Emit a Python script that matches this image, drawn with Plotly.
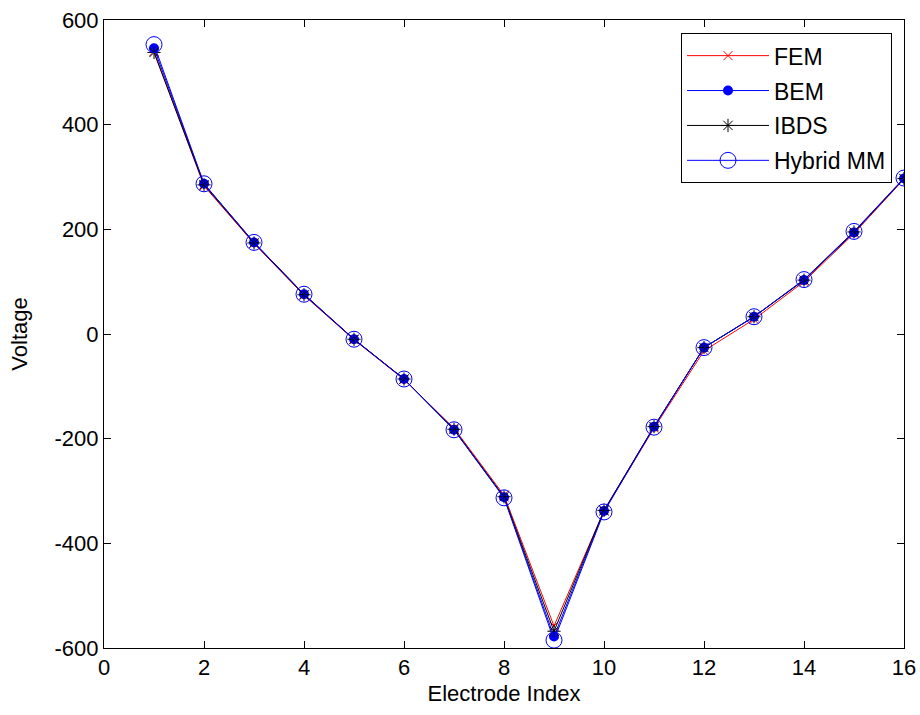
import plotly.graph_objects as go

electrode = list(range(1, 17))
fem = [540, 283, 173, 74, -11, -87, -180, -308, -558, -338, -180, -32, 28, 100, 192, 296]
bem = [546, 287, 175, 76, -10, -86, -183, -312, -578, -338, -177, -26, 33, 103, 194, 297]
ibds = [538, 285, 174, 75, -10, -86, -182, -311, -568, -337, -177, -26, 33, 103, 195, 297]
hybrid = [553, 287, 175, 76, -10, -86, -183, -313, -585, -340, -178, -26, 33, 104, 196, 298]

x_ticks = [0, 2, 4, 6, 8, 10, 12, 14, 16]
y_ticks = [-600, -400, -200, 0, 200, 400, 600]
y_tick_labels = ["-600", "-400", "-200", "0", "200", "400", "600"]

fig = go.Figure()
fig.add_trace(go.Scatter(x=electrode, y=fem, name="FEM", mode="lines+markers", legendgroup="a",
                         line=dict(color="#FF0000", width=1),
                         marker=dict(symbol="x-thin-open", size=9, color="#FF0000", line=dict(width=1, color="#FF0000"))))
fig.add_trace(go.Scatter(x=electrode, y=bem, name="BEM", mode="lines+markers", legendgroup="b",
                         line=dict(color="#0000FF", width=1),
                         marker=dict(symbol="circle", size=10, color="#0000FF")))
fig.add_trace(go.Scatter(x=electrode, y=ibds, name="IBDS", mode="lines+markers", legendgroup="c",
                         line=dict(color="#000000", width=1),
                         marker=dict(symbol="asterisk-open", size=11, color="#000000", line=dict(width=1, color="#000000"))))
fig.add_trace(go.Scatter(x=electrode, y=hybrid, name="Hybrid MM", mode="lines+markers", legendgroup="d",
                         line=dict(color="#0000FF", width=1),
                         marker=dict(symbol="circle-open", size=16, color="#0000FF", line=dict(width=1, color="#0000FF"))))

axis_common = dict(showgrid=False, zeroline=False, showline=True, linecolor="black", linewidth=1,
                   mirror="ticks", ticks="inside", ticklen=7, tickcolor="black",
                   tickfont=dict(size=22, color="black"), automargin=False,
                   ticklabeloverflow="allow")
fig.update_xaxes(range=[0, 16], tickvals=x_ticks,
                 title=dict(text="Electrode Index", font=dict(size=22, color="black"), standoff=6), **axis_common)
fig.update_yaxes(range=[-600, 600], tickvals=y_ticks, ticktext=y_tick_labels,
                 title=dict(text="Voltage", font=dict(size=22, color="black"), standoff=20), **axis_common)

fig.update_layout(
    width=920, height=715,
    margin=dict(l=104, r=16, t=20, b=67),
    paper_bgcolor="white", plot_bgcolor="white",
    font=dict(family="Liberation Sans, Arial, sans-serif", size=22, color="black"),
    legend=dict(x=0.985, y=0.979, xanchor="right", yanchor="top",
                bgcolor="white", bordercolor="black", borderwidth=1,
                font=dict(size=23), itemwidth=82, tracegroupgap=2),
)

fig.write_html("out.html")
